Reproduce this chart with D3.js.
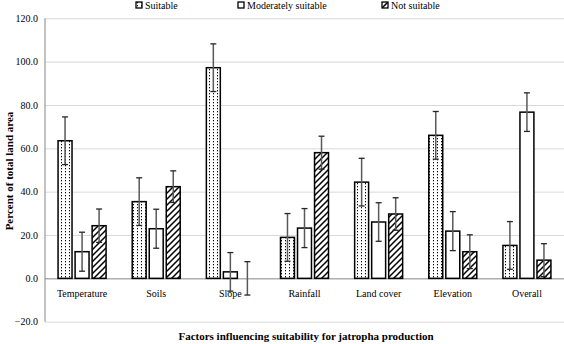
<!DOCTYPE html>
<html><head><meta charset="utf-8">
<script src="https://cdn.jsdelivr.net/npm/d3@7"></script>
<style>body{margin:0;background:#fff}svg{display:block}</style>
</head><body><svg id="c" width="564" height="344"></svg>
<script>
const categories = ["Temperature","Soils","Slope","Rainfall","Land cover","Elevation","Overall"];
const seriesNames = ["Suitable","Moderately suitable","Not suitable"];
const suitable = [63.5, 35.4, 97.2, 18.9, 44.4, 66.0, 15.2];
const moderately = [12.3, 22.9, 3.0, 23.2, 26.0, 21.8, 76.7];
const notSuitable = [24.3, 42.3, 0.0, 58.0, 29.7, 12.3, 8.4];
const errSuitable = [11, 11, 11, 11, 11, 11, 11];
const errModerately = [9, 9, 8.9, 9, 8.9, 9, 8.9];
const errNot = [7.7, 7.3, 7.7, 7.6, 7.5, 7.8, 7.6];
const yTicks = [-20, 0, 20, 40, 60, 80, 100, 120];

(function(){
const FF = "Liberation Serif";
const svg = d3.select("#c");
const defs = svg.append("defs");
const dots = defs.append("pattern").attr("id","dots").attr("patternUnits","userSpaceOnUse")
  .attr("width",4).attr("height",3);
dots.append("rect").attr("width",4).attr("height",3).attr("fill","#fff");
dots.append("rect").attr("x",1).attr("y",0).attr("width",1).attr("height",1.3).attr("fill","#000");
const hatch = defs.append("pattern").attr("id","hatch").attr("patternUnits","userSpaceOnUse")
  .attr("width",6).attr("height",6);
hatch.append("rect").attr("width",6).attr("height",6).attr("fill","#fff");
hatch.append("path").attr("d","M0,6 L6,0 M-1,1 L1,-1 M5,7 L7,5").attr("stroke","#000").attr("stroke-width",1.5);
const fills = ["url(#dots)","#fff","url(#hatch)"];

const mLeft = 45, mRight = 564, mTop = 18.3, mBottom = 321.7;
const y = d3.scaleLinear().domain([-20,120]).range([mBottom, mTop]);
const x0 = d3.scaleBand().domain(categories).range([mLeft, mRight]).paddingInner(0).paddingOuter(0);
const groupW = 48;
const x1 = d3.scaleBand().domain(seriesNames).range([x0.bandwidth()/2 - groupW/2, x0.bandwidth()/2 + groupW/2]).paddingInner(0.18);

const yAxis = d3.axisLeft(y).tickValues(yTicks).tickSize(-(mRight-mLeft)).tickFormat(d3.format(".1f"));
const ga = svg.append("g").attr("transform",`translate(${mLeft},0)`).call(yAxis);
ga.attr("font-family",FF);
ga.select(".domain").remove();
ga.selectAll(".tick line").attr("stroke","#d9d9d9").attr("stroke-width",1);
ga.selectAll(".tick").filter(d=>d===0).select("line").attr("stroke","#868686");
ga.selectAll(".tick text").attr("x",-7).attr("font-size",10).attr("fill","#000").attr("font-family",FF);
svg.append("line").attr("x1",mLeft).attr("x2",mLeft).attr("y1",mTop).attr("y2",mBottom).attr("stroke","#868686");

const data = [suitable, moderately, notSuitable];
const errs = [errSuitable, errModerately, errNot];
const rows = [];
categories.forEach((c,i)=>seriesNames.forEach((s,j)=>rows.push({c,s,j,v:data[j][i],e:errs[j][i]})));

const g = svg.append("g");
g.selectAll("rect.bar").data(rows.filter(d=>d.v>0)).join("rect").attr("class","bar")
  .attr("x",d=>x0(d.c)+x1(d.s)).attr("width",x1.bandwidth())
  .attr("y",d=>y(d.v)).attr("height",d=>y(0)-y(d.v))
  .attr("fill",d=>fills[d.j]).attr("stroke","#000").attr("stroke-width",1.5);

const cx = d=>x0(d.c)+x1(d.s)+x1.bandwidth()/2;
const eb = g.selectAll("g.err").data(rows).join("g").attr("class","err");
eb.append("line").attr("x1",cx).attr("x2",cx)
  .attr("y1",d=>y(d.v+d.e)).attr("y2",d=>y(d.v-d.e)).attr("stroke","#595959").attr("stroke-width",1.5);
[1,-1].forEach(sg=>{
  eb.append("line").attr("x1",d=>cx(d)-3).attr("x2",d=>cx(d)+3)
    .attr("y1",d=>y(d.v+sg*d.e)).attr("y2",d=>y(d.v+sg*d.e)).attr("stroke","#262626").attr("stroke-width",1.3);
});

svg.append("g").selectAll("text").data(categories).join("text")
  .attr("x",d=>x0(d)+x0.bandwidth()/2).attr("y",297).attr("text-anchor","middle")
  .attr("font-family",FF).attr("font-size",10).text(d=>d);

svg.append("text").attr("transform","translate(13,171) rotate(-90)").attr("text-anchor","middle")
  .attr("font-family",FF).attr("font-size",11).attr("font-weight","bold").text("Percent of total land area");
svg.append("text").attr("x",306).attr("y",340).attr("text-anchor","middle")
  .attr("font-family",FF).attr("font-size",11).attr("font-weight","bold").text("Factors influencing suitability for jatropha production");

const legX = [136, 238, 382];
const lg = svg.append("g").selectAll("g").data(seriesNames).join("g")
  .attr("transform",(d,i)=>`translate(${legX[i]},2)`);
lg.append("rect").attr("width",6).attr("height",6).attr("fill",(d,i)=>fills[i]).attr("stroke","#000").attr("stroke-width",1.3);
lg.append("text").attr("x",9).attr("y",7).attr("font-family",FF).attr("font-size",10).text(d=>d);
})();
</script></body></html>
